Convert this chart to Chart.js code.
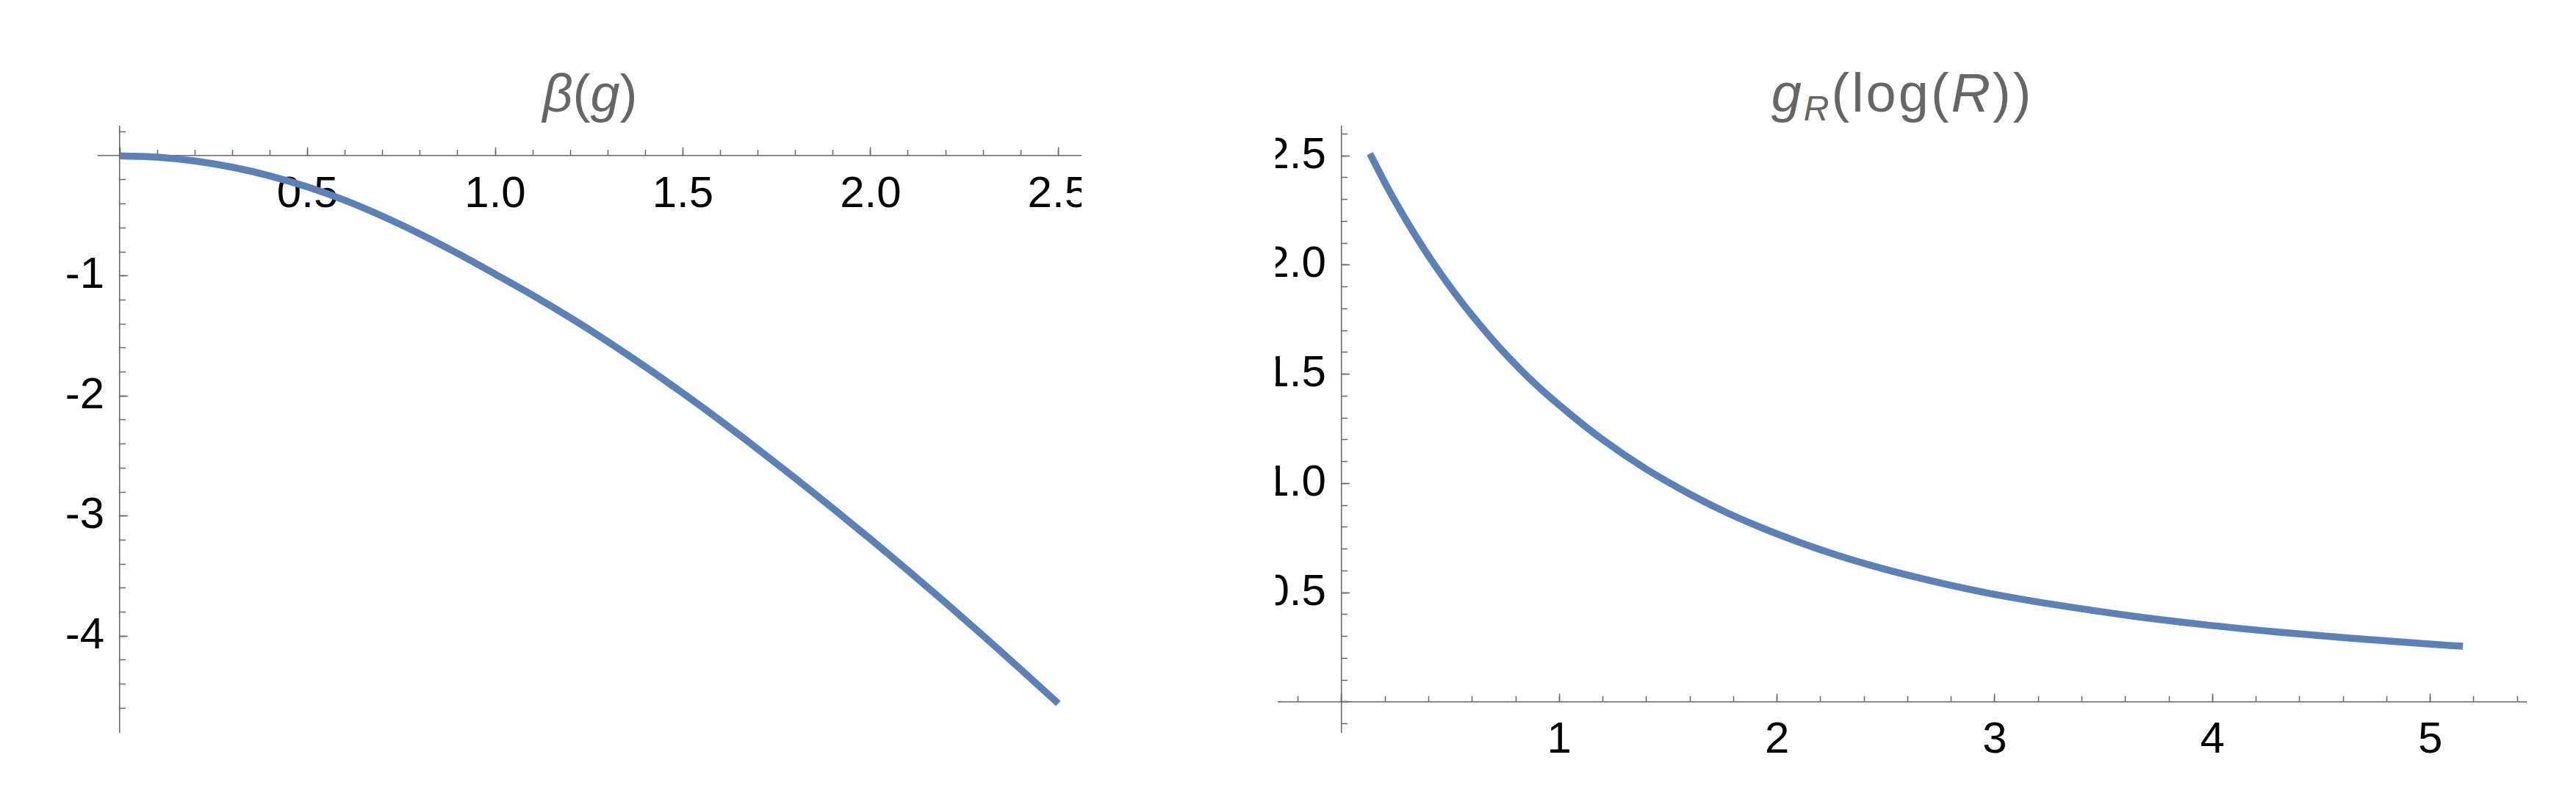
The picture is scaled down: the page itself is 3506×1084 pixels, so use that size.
<!DOCTYPE html>
<html>
<head>
<meta charset="utf-8">
<script src="https://cdn.jsdelivr.net/npm/chart.js@4.4.1/dist/chart.umd.min.js"></script>
<style>
  html, body { margin: 0; padding: 0; background: #fff; }
  body { width: 3506px; height: 1084px; position: relative; overflow: hidden; }
  canvas { position: absolute; top: 0; }
  #betaChart { left: 0; }
  #flowChart { left: 1736px; }
  .title {
    position: absolute; top: 91px;
    font-family: "Liberation Sans", Arial, sans-serif;
    font-size: 72px; line-height: 72px; color: #666;
    text-align: center; white-space: nowrap;
  }
  .title.wide { font-size: 74px; letter-spacing: 3px; }
  .title .sub { font-size: 48px; position: relative; top: 12px; }
</style>
</head>
<body>
<div class="title" style="left:134px;width:1338px"><i>β</i>(<i>g</i>)</div>
<div class="title wide" style="left:1740px;width:1698px"><i>g</i><i class="sub">R</i>(log(<i>R</i>))</div>
<canvas id="betaChart" width="1472" height="1084"></canvas>
<canvas id="flowChart" width="1770" height="1084"></canvas>
<script>
// left panel: beta(g)
const gValues = [0, 0.1, 0.2, 0.3, 0.4, 0.5, 0.6, 0.7, 0.8, 0.9, 1.0, 1.1, 1.2,
    1.3, 1.4, 1.5, 1.6, 1.7, 1.8, 1.9, 2.0, 2.1, 2.2, 2.3, 2.4, 2.5];
const betaValues = [0, -0.011, -0.043, -0.095, -0.167, -0.259, -0.371, -0.503,
    -0.651, -0.813, -0.985, -1.161, -1.348, -1.547, -1.757, -1.977, -2.206,
    -2.443, -2.687, -2.937, -3.193, -3.455, -3.723, -3.997, -4.277, -4.562];

// right panel: g_R(log R)
const logRValues = [0.13, 0.216, 0.30, 0.384, 0.469, 0.553, 0.637, 0.722, 0.89,
    1.06, 1.20, 1.40, 1.60, 1.77, 1.94, 2.10, 2.27, 2.44, 2.61, 2.78, 2.95, 3.12,
    3.29, 3.62, 3.96, 4.29, 4.63, 4.97, 5.15];
const gRValues = [2.51, 2.345, 2.199, 2.065, 1.941, 1.828, 1.724, 1.626, 1.455,
    1.309, 1.200, 1.065, 0.951, 0.866, 0.793, 0.732, 0.674, 0.623, 0.578, 0.538,
    0.502, 0.471, 0.443, 0.395, 0.354, 0.321, 0.292, 0.267, 0.255];

const lineBlue = "#5E81B5";
const axisGray = "#666666";
const tickFont = { family: "'Liberation Sans', Arial, sans-serif", size: 60 };

// axes sit on the origin, so they must not push the plot area around
const noPadding = (s) => {
    s.paddingLeft = 0;
    s.paddingRight = 0;
    s.paddingTop = 0;
    s.paddingBottom = 0;
};

// axis line + tick marks only (ticks point into the plot, like Mathematica)
function tickAxis(axis, at, min, max, step, len, withBorder) {
    return {
        type: "linear",
        axis: axis,
        position: at,
        min: min,
        max: max,
        afterFit: noPadding,
        ticks: { stepSize: step, includeBounds: false, autoSkip: false, callback: () => "" },
        grid: { drawOnChartArea: false, tickLength: len, tickColor: axisGray, tickWidth: 1.5 },
        border: { display: withBorder, color: axisGray, width: 1.5 },
    };
}

// tick labels only
function labelAxis(axis, at, min, max, step, fmt, pad) {
    return {
        type: "linear",
        axis: axis,
        position: at,
        min: min,
        max: max,
        afterFit: noPadding,
        ticks: {
            stepSize: step, includeBounds: false, autoSkip: false,
            maxRotation: 0, minRotation: 0,
            callback: fmt, color: "#000", font: tickFont, padding: pad,
        },
        grid: { display: false, drawTicks: false },
        border: { display: false },
    };
}

function curve(xs, ys) {
    return {
        data: xs.map((x, i) => ({ x: x, y: ys[i] })),
        borderColor: lineBlue,
        borderWidth: 9.5,
        pointRadius: 0,
        cubicInterpolationMode: "monotone",
        fill: false,
    };
}

const baseOptions = {
    responsive: false,
    animation: false,
    devicePixelRatio: 1,
    plugins: { legend: { display: false }, tooltip: { enabled: false }, title: { display: false } },
};

new Chart(document.getElementById("betaChart"), {
    type: "line",
    data: { datasets: [curve(gValues, betaValues)] },
    options: {
        ...baseOptions,
        layout: { padding: { left: 134, right: 0, top: 171.7, bottom: 87 } },
        scales: {
            x: tickAxis("x", { y: 0 }, -0.057, 2.562, 0.5, -12, true),
            xMinor: tickAxis("x", { y: 0 }, -0.057, 2.562, 0.1, -8, false),
            xLabels: labelAxis("x", { y: 0 }, -0.057, 2.562, 0.5,
                (v) => (v === 0 ? "" : v.toFixed(1)), 17),
            y: tickAxis("y", { x: 0 }, -4.80, 0.248, 1, -12, true),
            yMinor: tickAxis("y", { x: 0 }, -4.80, 0.248, 0.2, -8, false),
            yLabels: labelAxis("y", { x: -0.041 }, -4.80, 0.248, 1,
                (v) => (v === 0 ? "" : String(v)), 0),
        },
    },
});

new Chart(document.getElementById("flowChart"), {
    type: "line",
    data: { datasets: [curve(logRValues, gRValues)] },
    options: {
        ...baseOptions,
        layout: { padding: { left: 4, right: 68, top: 171.7, bottom: 87 } },
        scales: {
            x: tickAxis("x", { y: 0 }, -0.29, 5.44, 1, -12, true),
            xMinor: tickAxis("x", { y: 0 }, -0.29, 5.44, 0.2, -8, false),
            xLabels: labelAxis("x", { y: 0 }, -0.29, 5.44, 1,
                (v) => (v === 0 ? "" : String(v)), 17),
            y: tickAxis("y", { x: 0 }, -0.138, 2.636, 0.5, -12, true),
            yMinor: tickAxis("y", { x: 0 }, -0.138, 2.636, 0.1, -8, false),
            yLabels: labelAxis("y", { x: -0.071 }, -0.138, 2.636, 0.5,
                (v) => (v === 0 ? "" : v.toFixed(1)), 0),
        },
    },
});
</script>
</body>
</html>
